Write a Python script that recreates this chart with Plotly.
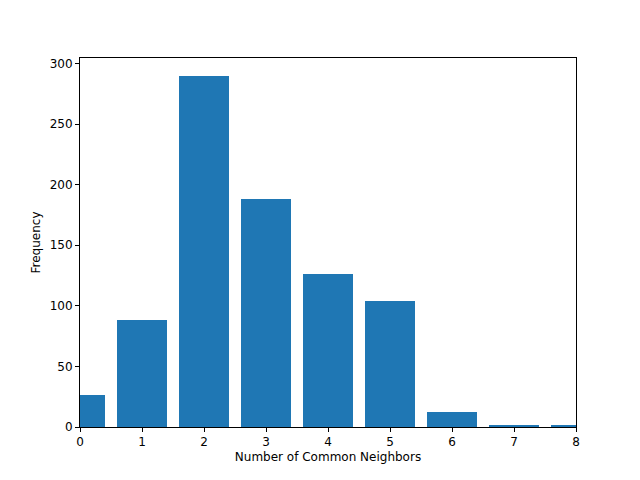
import plotly.graph_objects as go

neighbors = [0, 1, 2, 3, 4, 5, 6, 7, 8]
frequency = [26, 88, 290, 188, 126, 104, 12, 2, 2]

fig = go.Figure([go.Bar(x=neighbors, y=frequency, width=0.8,
                        marker=dict(color="#1f77b4", line=dict(width=0)))])

axis_style = dict(showline=True, linecolor="black", linewidth=1, mirror=True,
                  ticks="outside", ticklen=4, tickcolor="black", showgrid=False,
                  zeroline=False, tickfont=dict(size=12, color="black"))

fig.update_layout(
    width=640, height=480,
    margin=dict(l=72, r=72, t=50, b=61),
    plot_bgcolor="white", paper_bgcolor="white",
    font=dict(family="DejaVu Sans", size=12, color="black"),
    showlegend=False,
    bargap=0,
)
fig.update_xaxes(range=[0, 8], dtick=1,
                 title=dict(text="Number of Common Neighbors", standoff=4, font=dict(size=12)), **axis_style)
fig.update_yaxes(range=[0, 304.5], dtick=50,
                 title=dict(text="Frequency", standoff=6, font=dict(size=12)), **axis_style)

fig.write_html("out.html")
